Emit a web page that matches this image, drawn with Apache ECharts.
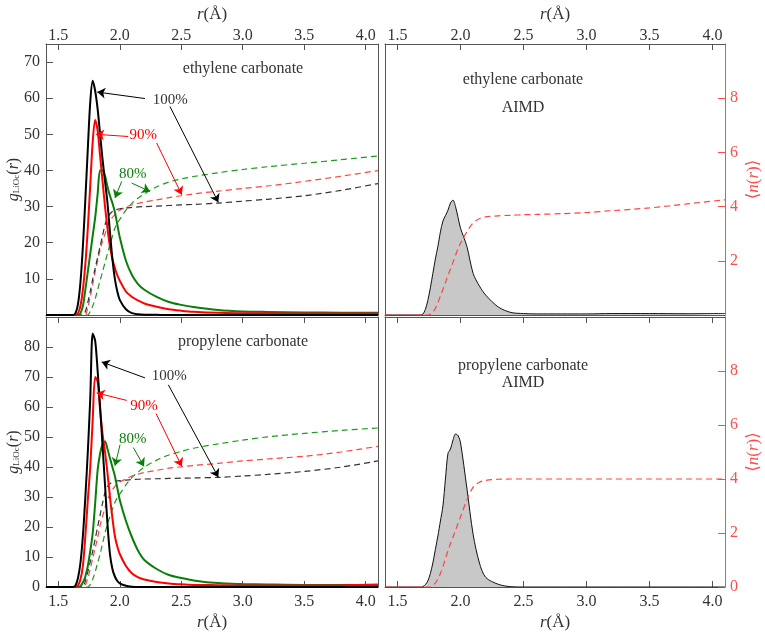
<!DOCTYPE html>
<html><head><meta charset="utf-8">
<script src="https://cdn.jsdelivr.net/npm/echarts@6/dist/echarts.min.js"></script>
<style>html,body{margin:0;padding:0;background:#fff}#c{width:765px;height:632px}</style>
</head><body><div id="c"></div>
<script>
// shared radial grid r (Å)
const r = [1.40,1.60,1.62,1.64,1.66,1.68,1.70,1.72,1.74,1.76,1.78,1.80,1.82,1.84,1.86,1.88,1.90,1.92,1.94,1.96,1.98,2.00,2.05,2.10,2.15,2.20,2.30,2.40,2.50,2.60,2.80,3.00,3.20,3.50,3.80,4.10];

// ethylene carbonate g(r)
const ecG100 = [0,0,0,0.5,3,9,19,32,46,59,64.8,62,57,50,43,37,31,23,15.5,10,6.5,4.2,1.6,0.5,0.2,0.1,0.05,0,0,0,0,0,0,0,0,0];
const ecG90  = [0,0,0,0,0.5,2.5,7,14,24,36,48,54,51,44,37,30,24,19,15.5,13,11,9.5,6.5,5,4,3.2,2.3,1.6,1.2,0.9,0.6,0.5,0.45,0.4,0.4,0.4];
const ecG80  = [0,0,0,0,0,0.5,2.5,7,12,17,22,27,33.5,40,40,38.5,35.5,33,31,28.5,25,21.5,15,11,8.5,7,5,3.6,2.8,2.2,1.4,1.0,0.85,0.7,0.65,0.6];
const ecGAimd = [0,0,0,0,0,0,0.2,1.5,4,7.5,11.5,15.5,19,23,26,27.5,29,31,31.8,30,27,24,19,11.5,8,5.5,2.2,0.7,0.4,0.3,0.3,0.3,0.4,0.4,0.35,0.4];
// ethylene carbonate <n(r)>
const ecN100 = [0,0,0,0,0,0,0,0.13,0.47,0.87,1.33,1.73,2.13,2.53,2.93,3.33,3.6,3.73,3.82,3.86,3.9,3.92,3.95,3.97,3.99,4.0,4.02,4.04,4.06,4.08,4.13,4.2,4.27,4.4,4.6,4.85];
const ecN90  = [0,0,0,0,0,0,0,0,0.27,0.67,1.13,1.6,2.0,2.4,2.73,3.0,3.27,3.47,3.6,3.7,3.8,3.87,3.98,4.07,4.12,4.17,4.25,4.33,4.4,4.47,4.57,4.67,4.76,4.93,5.12,5.33];
const ecN80  = [0,0,0,0,0,0,0,0,0,0.13,0.33,0.6,0.93,1.27,1.6,1.93,2.27,2.6,2.9,3.2,3.38,3.53,3.87,4.13,4.32,4.47,4.73,4.91,5.02,5.11,5.25,5.37,5.47,5.6,5.73,5.87];
const ecNAimd = [0,0,0,0,0,0,0,0,0,0.03,0.1,0.25,0.45,0.7,0.95,1.2,1.45,1.7,1.95,2.2,2.45,2.65,3.07,3.4,3.55,3.62,3.66,3.68,3.7,3.71,3.74,3.78,3.85,3.95,4.1,4.25];

// propylene carbonate g(r)
const pcG100 = [0,0,0,0.5,3,8,17,30,45,63,84.5,82,72,60,47,34,21,11,6,3.5,2,1.2,0.4,0.1,0,0,0,0,0,0,0,0,0,0,0,0];
const pcG90  = [0,0,0,0,0.5,2.5,7,17,29,40,56,70,68.5,59,51,45,38,30,23,17,13.5,11,7,4.5,3.2,2.5,1.7,1.2,0.9,0.7,0.6,0.5,0.5,0.5,0.6,0.8];
const pcG80  = [0,0,0,0,0,0.3,1.5,3.5,7,12,18,28,39,44.5,47.5,48.5,46,43,40,37,33,29,22,16.5,12,9,6,4,3,2.2,1.3,1.0,0.85,0.7,0.7,0.7];
const pcGAimd = [0,0,0,0,0,0,0.1,0.8,2,4.5,8,12.5,17,22,27,36,44.5,46,49,51,50.5,48,33,17.5,8,3.2,0.9,0.1,0,0,0,0,0,0,0,0];
// propylene carbonate <n(r)>
const pcN100 = [0,0,0,0,0,0,0,0.22,0.56,0.94,1.33,1.78,2.22,2.67,3.11,3.5,3.72,3.83,3.89,3.92,3.93,3.94,3.96,3.98,3.99,4.0,4.01,4.02,4.03,4.04,4.06,4.11,4.17,4.28,4.44,4.67];
const pcN90  = [0,0,0,0,0,0,0,0.06,0.33,0.67,1.06,1.44,1.83,2.28,2.61,2.94,3.22,3.44,3.6,3.72,3.82,3.89,4.0,4.11,4.18,4.24,4.32,4.4,4.45,4.5,4.58,4.67,4.74,4.84,5.0,5.21];
const pcN80  = [0,0,0,0,0,0,0,0,0,0.09,0.28,0.56,0.89,1.22,1.61,2.0,2.33,2.61,2.87,3.13,3.3,3.44,3.78,4.06,4.26,4.44,4.7,4.89,5.02,5.14,5.3,5.44,5.56,5.69,5.8,5.89];
const pcNAimd = [0,0,0,0,0,0,0,0,0,0,0.05,0.15,0.3,0.5,0.75,1.05,1.35,1.6,1.85,2.1,2.35,2.6,3.22,3.7,3.88,3.95,3.99,4.0,4.0,4.0,4.0,4.0,4.0,4.0,4.0,4.0];

// tick labels
const xTicks = [1.5,2.0,2.5,3.0,3.5,4.0];
const gTicksEC = [10,20,30,40,50,60,70];
const gTicksECAll = [0,10,20,30,40,50,60,70];
const gTicksPC = [0,10,20,30,40,50,60,70,80];
const nTicksEC = [2,4,6,8];
const nTicksPC = [0,2,4,6,8];

// annotation labels (data coords) and arrows [from, to]
const ecLabels = [['100%',2.41,59.6],['90%',2.19,49.9],['80%',2.105,39.0]];
const ecArrows = [
  [[[2.205,59.9],[1.817,61.7]],[[2.408,57.7],[2.801,31.2]]],
  [[[2.069,49.4],[1.807,50.0]],[[2.30,47.6],[2.504,33.3]]],
  [[[2.016,37.0],[1.961,32.4]],[[2.097,36.5],[2.246,34.2]]]
];
const pcLabels = [['100%',2.403,70.2],['90%',2.197,60.2],['80%',2.105,49.3]];
const pcArrows = [
  [[[2.205,69.7],[1.853,75.0]],[[2.395,67.4],[2.801,36.6]]],
  [[[2.056,62.2],[1.812,64.7]],[[2.295,57.8],[2.504,40.2]]],
  [[[2.002,47.4],[1.961,40.4]],[[2.11,46.5],[2.197,40.2]]]
];

const FONT = '"Liberation Serif", "DejaVu Serif", serif';
const TXT = '#333';
const FRAME = '#555';
const RED_AX = '#ff4d4d';
const C_SOLID = ['#000000','#ff0000','#0a7d0a'];
const C_DASH = ['#333333','#ff4444','#1f9a1f'];
const FS = 16;

function pts(ys){ return r.map((x,i)=>[x, ys[i]]); }

const rNameRich = {i:{fontStyle:'italic',fontFamily:FONT,fontSize:17,color:TXT}, n:{fontFamily:FONT,fontSize:17,color:TXT}};

function xAx(grid, pos, ticks, labels, name, gap){
  return {type:'value', gridIndex:grid, position:pos, min:1.4, max:4.1,
    axisLine:{show:true,onZero:false,lineStyle:{color:FRAME,width:1}},
    axisTick:{show:ticks,inside:true,length:6,customValues:xTicks,lineStyle:{color:FRAME}},
    axisLabel:{show:labels,customValues:xTicks,formatter:v=>v.toFixed(1),margin:pos==='top'?0:7,color:TXT,fontFamily:FONT,fontSize:FS},
    splitLine:{show:false},
    name: name ? '{i|r}{n|(Å)}' : '', nameLocation:'middle', nameGap:gap||25,
    nameTextStyle:{rich:rNameRich}
  };
}
function gAx(grid, max, ticks, labels, showTicks){
  return {type:'value', gridIndex:grid, position:'left', min:0, max:max,
    axisLine:{show:true,onZero:false,lineStyle:{color:FRAME,width:1}},
    axisTick:{show:showTicks,inside:true,length:7,customValues:ticks,lineStyle:{color:FRAME}},
    axisLabel:{show:showTicks,customValues:labels,margin:6,color:TXT,fontFamily:FONT,fontSize:FS},
    splitLine:{show:false},
    name: showTicks ? '{i|g}{s|LiOc}{n|(}{i|r}{n|)}' : '', nameLocation:'middle', nameGap:24,
    nameMoveOverlap:false,
    nameTextStyle:{rich:{
      i:{fontStyle:'italic',fontFamily:FONT,fontSize:16,color:TXT},
      n:{fontFamily:FONT,fontSize:16,color:TXT},
      s:{fontFamily:FONT,fontSize:9,color:TXT,padding:[6,0,0,0]}
    }}
  };
}
function nAx(grid, red, ticks){
  return {type:'value', gridIndex:grid, position:'right', min:0, max:10,
    axisLine:{show:true,onZero:false,lineStyle:{color:red?RED_AX:FRAME,width:1}},
    axisTick:{show:red,inside:true,length:7,customValues:ticks||[],lineStyle:{color:RED_AX}},
    axisLabel:{show:red,customValues:ticks||[],margin:5,color:RED_AX,fontFamily:FONT,fontSize:FS},
    splitLine:{show:false},
    name: red ? '{n|⟨}{i|n}{n|(}{i|r}{n|)⟩}' : '', nameLocation:'middle', nameGap:20,
    nameTextStyle:{rich:{
      i:{fontStyle:'italic',fontFamily:FONT,fontSize:17,color:RED_AX},
      n:{fontFamily:FONT,fontSize:17,color:RED_AX}
    }}
  };
}

function solid(x, y, data, ci, extra){
  return Object.assign({type:'line', xAxisIndex:x, yAxisIndex:y, data:pts(data), symbol:'none', smooth:0.3,
    lineStyle:{color:C_SOLID[ci],width:2}, itemStyle:{color:C_SOLID[ci]}, z:3}, extra||{});
}
function dashed(x, y, data, color){
  return {type:'line', xAxisIndex:x, yAxisIndex:y, data:pts(data), symbol:'none', smooth:0.3,
    lineStyle:{color:color,width:1.2,type:[6,4]}, z:2};
}
function annot(labels, arrows, i){
  const col = C_SOLID[i];
  return {
    markLine:{silent:true, symbol:['none','arrow'], symbolSize:8, animation:false,
      label:{show:false}, lineStyle:{color:col,width:1,type:'solid'},
      data: arrows[i].map(a=>[{coord:a[0]},{coord:a[1]}])},
    markPoint:{silent:true, symbol:'circle', symbolSize:1, itemStyle:{color:'rgba(0,0,0,0)'}, animation:false,
      data:[{coord:[labels[i][1],labels[i][2]], value:labels[i][0]}],
      label:{show:true,position:'inside',formatter:labels[i][0],color:i===0?'#333':col,fontFamily:FONT,fontSize:15}}
  };
}

const txt = (x,y,s)=>({type:'text', x:x, y:y, style:{text:s, font:FS+'px '+FONT, fill:TXT, align:'center', verticalAlign:'middle'}});

const option = {
  animation:false,
  backgroundColor:'#fff',
  grid:[
    {left:46, top:44, width:332, height:271},
    {left:385, top:44, width:340, height:271},
    {left:46, top:317, width:332, height:270},
    {left:385, top:317, width:340, height:270}
  ],
  xAxis:[
    xAx(0,'bottom',false,false,false),
    xAx(0,'top',true,true,true,21),
    xAx(1,'bottom',false,false,false),
    xAx(1,'top',true,true,true,21),
    xAx(2,'bottom',true,true,true,27),
    xAx(2,'top',true,false,false),
    xAx(3,'bottom',true,true,true,27),
    xAx(3,'top',true,false,false)
  ],
  yAxis:[
    gAx(0,75,gTicksECAll,gTicksEC,true),
    nAx(0,false),
    gAx(1,75,[],[],false),
    nAx(1,true,nTicksEC),
    gAx(2,90,gTicksPC,gTicksPC,true),
    nAx(2,false),
    gAx(3,90,[],[],false),
    nAx(3,true,nTicksPC)
  ],
  graphic:[
    txt(243,69,'ethylene carbonate'),
    txt(523,80,'ethylene carbonate'),
    txt(523,108,'AIMD'),
    txt(243,342,'propylene carbonate'),
    txt(523,366,'propylene carbonate'),
    txt(523,383,'AIMD')
  ],
  series:[
    // top-left: ethylene carbonate
    dashed(0,1,ecN80,C_DASH[2]),
    dashed(0,1,ecN90,C_DASH[1]),
    dashed(0,1,ecN100,C_DASH[0]),
    solid(0,0,ecG80,2,annot(ecLabels,ecArrows,2)),
    solid(0,0,ecG90,1,annot(ecLabels,ecArrows,1)),
    solid(0,0,ecG100,0,annot(ecLabels,ecArrows,0)),
    // top-right: EC AIMD
    {type:'line', xAxisIndex:2, yAxisIndex:2, data:pts(ecGAimd), symbol:'none', smooth:0.3,
      lineStyle:{color:'#111',width:1}, areaStyle:{color:'#c8c8c8',opacity:1}, z:2},
    dashed(2,3,ecNAimd,C_DASH[1]),
    // bottom-left: propylene carbonate
    dashed(4,5,pcN80,C_DASH[2]),
    dashed(4,5,pcN90,C_DASH[1]),
    dashed(4,5,pcN100,C_DASH[0]),
    solid(4,4,pcG80,2,annot(pcLabels,pcArrows,2)),
    solid(4,4,pcG90,1,annot(pcLabels,pcArrows,1)),
    solid(4,4,pcG100,0,annot(pcLabels,pcArrows,0)),
    // bottom-right: PC AIMD
    {type:'line', xAxisIndex:6, yAxisIndex:6, data:pts(pcGAimd), symbol:'none', smooth:0.3,
      lineStyle:{color:'#111',width:1}, areaStyle:{color:'#c8c8c8',opacity:1}, z:2},
    dashed(6,7,pcNAimd,C_DASH[1])
  ]
};

const chart = echarts.init(document.getElementById('c'), null, {renderer:'canvas'});
chart.setOption(option);
</script></body></html>
